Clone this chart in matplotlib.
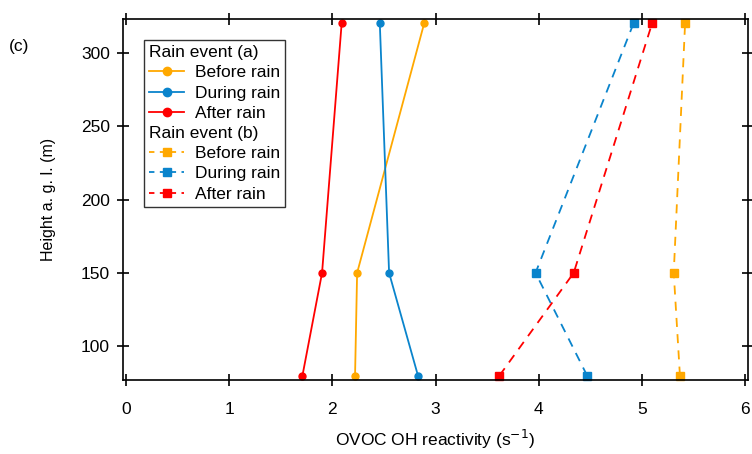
import numpy as np
import matplotlib
matplotlib.use("Agg")
import matplotlib.pyplot as plt
from matplotlib.lines import Line2D

# heights (m a.g.l.)
height = [80, 150, 320]

# rain event (a)
a_before = [2.22, 2.24, 2.89]
a_during = [2.83, 2.55, 2.46]
a_after = [1.71, 1.90, 2.09]

# rain event (b)
b_before = [5.37, 5.31, 5.42]
b_during = [4.47, 3.97, 4.92]
b_after = [3.62, 4.34, 5.10]

c_orange = "#FFA800"
c_blue = "#0A84CC"
c_red = "#FF0000"

plt.rcParams['font.family'] = ['Liberation Sans', 'DejaVu Sans']

fig = plt.figure(figsize=(7.52, 4.54), dpi=100)
ax = fig.add_axes([123/752, 1-380/454, (748-123)/752, (380-19)/454])

# solid lines with circles, event a
for vals, col in [(a_before, c_orange), (a_during, c_blue), (a_after, c_red)]:
    ax.plot(vals, height, color=col, lw=1.3, marker='o', ms=5, clip_on=False)

# dashed lines with squares, event b
for vals, col in [(b_before, c_orange), (b_during, c_blue), (b_after, c_red)]:
    ax.plot(vals, height, color=col, lw=1.3, ls=(0, (5, 4)), marker='s', ms=6, clip_on=False)

ax.set_xlim(-0.03, 6.03)
ax.set_ylim(77, 323)
ax.set_xticks(range(7))
ax.set_yticks([100, 150, 200, 250, 300])
ax.tick_params(direction='inout', length=9, width=1.2, top=True, right=True,
               labelsize=12.5, colors='black')
ax.tick_params(axis='x', pad=11)
ax.tick_params(axis='y', pad=5)
for s in ax.spines.values():
    s.set_linewidth(1.2)

ax.set_xlabel('OVOC OH reactivity (s$^{-1}$)', fontsize=12.5, labelpad=8)
ax.set_ylabel('Height a. g. l. (m)', fontsize=11.5, labelpad=18)
fig.text(9/752, 1-46/454, '(c)', fontsize=12.5, va='center')

# legend with heading rows
empty = Line2D([], [], linestyle='none')
handles = [empty,
           Line2D([], [], color=c_orange, lw=1.3, marker='o', ms=6),
           Line2D([], [], color=c_blue, lw=1.3, marker='o', ms=6),
           Line2D([], [], color=c_red, lw=1.3, marker='o', ms=6),
           empty,
           Line2D([], [], color=c_orange, lw=1.3, ls=(0, (3, 3)), marker='s', ms=6),
           Line2D([], [], color=c_blue, lw=1.3, ls=(0, (3, 3)), marker='s', ms=6),
           Line2D([], [], color=c_red, lw=1.3, ls=(0, (3, 3)), marker='s', ms=6)]
labels = ['Rain event (a)', 'Before rain', 'During rain', 'After rain',
          'Rain event (b)', 'Before rain', 'During rain', 'After rain']
leg = ax.legend(handles, labels, loc='upper left', bbox_to_anchor=(0.034, 0.942),
                fontsize=12.5, frameon=True, fancybox=False, edgecolor='black',
                handlelength=2.0, handletextpad=0.6, borderpad=0.3,
                labelspacing=0.29, borderaxespad=0)
leg.get_frame().set_linewidth(1.0)

# pull heading texts to the left edge
for col in leg._legend_handle_box.get_children():
    for i, row in enumerate(col.get_children()):
        if labels[i].startswith('Rain event'):
            row.get_children()[0].width = 0
            row.sep = 0

fig.savefig('out.png', dpi=100)
